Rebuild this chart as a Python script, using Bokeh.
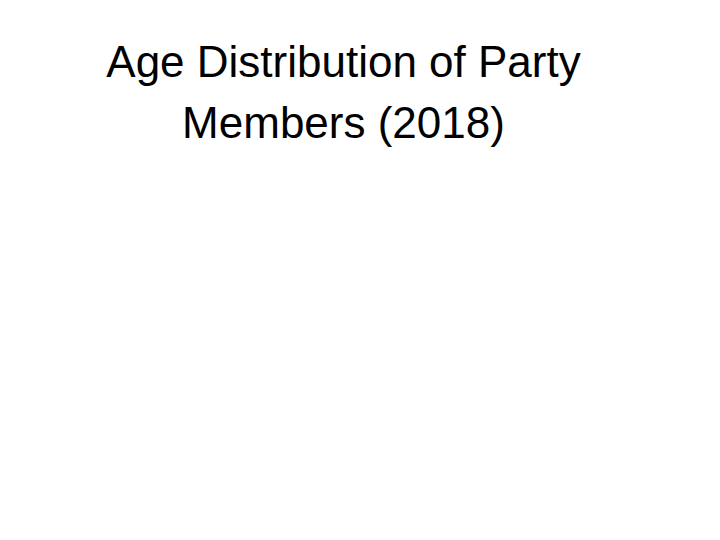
from bokeh.plotting import figure
from bokeh.models import Range1d, ColumnDataSource
from bokeh.core.properties import value
from bokeh.embed import file_html
from bokeh.resources import INLINE

# data
title_lines = ["Age Distribution of Party", "Members (2018)"]

# layout (screen-like pixel coordinates, y from bottom)
W, H = 704, 524
cx = 343
first_baseline = 463
line_step = 61

src = ColumnDataSource(dict(
    x=[cx] * len(title_lines),
    y=[first_baseline - i * line_step for i in range(len(title_lines))],
    text=title_lines,
))

p = figure(width=W, height=H, output_backend="svg", toolbar_location=None,
           x_range=Range1d(0, W), y_range=Range1d(0, H), min_border=0)
p.axis.visible = False
p.grid.visible = False
p.outline_line_color = None
p.background_fill_color = "white"
p.border_fill_color = "white"

p.text(x="x", y="y", text="text", source=src,
       text_font=value("Liberation Sans"), text_font_size="44px",
       text_color="black", text_align="center", text_baseline="alphabetic")

open("out.html", "w").write(file_html(p, INLINE))
